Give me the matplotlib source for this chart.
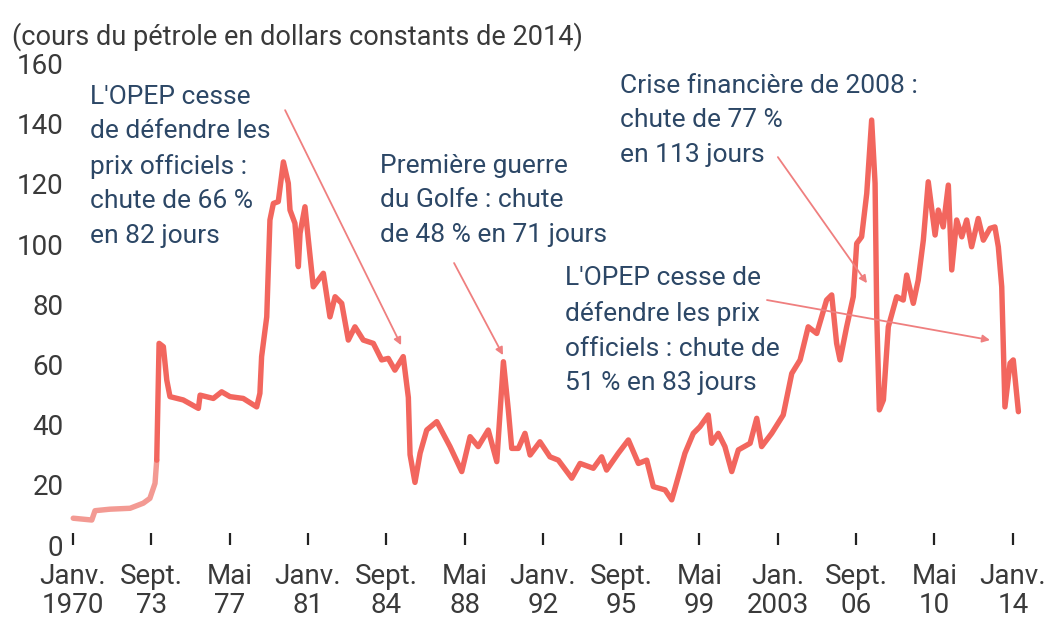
import matplotlib
matplotlib.use("Agg")
import matplotlib.pyplot as plt

plt.rcParams["font.family"] = ["Roboto", "DejaVu Sans"]

# cours du petrole (dollars constants de 2014)
annees = [1970.01, 1970.88, 1971.03, 1971.73, 1972.67, 1973.29, 1973.60, 1973.84, 1973.92,
          1974.03, 1974.23, 1974.39, 1974.54, 1975.16, 1975.87, 1975.95, 1976.57, 1976.96,
          1977.35, 1977.97, 1978.60, 1978.75, 1978.83, 1979.07, 1979.22, 1979.38, 1979.61,
          1979.85, 1980.08, 1980.16, 1980.39, 1980.55, 1980.63, 1980.86, 1981.02, 1981.25,
          1981.72, 1982.03, 1982.27, 1982.58, 1982.89, 1983.20, 1983.59, 1984.06, 1984.45,
          1984.76, 1985.07, 1985.46, 1985.70, 1985.78, 1986.01, 1986.25, 1986.56, 1987.03,
          1987.65, 1988.20, 1988.59, 1988.97, 1989.44, 1989.84, 1990.15, 1990.38, 1990.54,
          1990.85, 1991.16, 1991.40, 1991.86, 1992.33, 1992.72, 1993.35, 1993.74, 1994.36,
          1994.75, 1994.98, 1995.53, 1996.00, 1996.47, 1996.86, 1997.17, 1997.72, 1998.03,
          1998.34, 1998.65, 1999.04, 1999.35, 1999.74, 1999.90, 2000.21, 2000.52, 2000.84,
          2001.15, 2001.70, 2002.01, 2002.24, 2002.71, 2003.25, 2003.65, 2004.04, 2004.42,
          2004.82, 2005.28, 2005.52, 2005.75, 2005.91, 2006.22, 2006.53, 2006.69, 2006.92,
          2007.16, 2007.39, 2007.55, 2007.63, 2007.75, 2007.94, 2008.17, 2008.56, 2008.87,
          2009.03, 2009.34, 2009.57, 2009.81, 2010.04, 2010.36, 2010.51, 2010.74, 2010.98,
          2011.14, 2011.37, 2011.61, 2011.84, 2012.07, 2012.38, 2012.62, 2012.93, 2013.16,
          2013.32, 2013.48, 2013.63, 2013.87, 2014.02, 2014.26]
prix = [8.9, 8.3, 11.4, 11.9, 12.2, 13.9, 15.5, 20.5, 28.2,
        67.0, 65.9, 54.8, 49.3, 48.2, 45.4, 49.8, 48.7, 50.9,
        49.3, 48.7, 45.9, 50.4, 62.6, 75.8, 108.0, 113.5, 114.1,
        127.3, 120.2, 111.3, 106.9, 92.5, 103.6, 112.4, 101.3, 85.8,
        90.3, 75.8, 82.5, 80.3, 68.1, 72.5, 68.1, 67.0, 61.5,
        62.0, 58.1, 62.6, 49.0, 30.0, 20.8, 30.5, 38.2, 41.0,
        32.7, 24.4, 36.0, 32.7, 38.2, 27.7, 60.9, 44.9, 32.1,
        32.1, 37.1, 29.9, 34.3, 29.3, 28.2, 22.2, 27.1, 25.5,
        29.3, 24.9, 30.5, 34.9, 27.1, 28.2, 19.4, 18.3, 15.0,
        22.7, 30.5, 37.1, 39.3, 43.2, 33.8, 37.1, 32.7, 24.4,
        31.6, 33.8, 42.1, 32.7, 37.1, 43.2, 57.0, 61.5, 72.5,
        70.3, 81.4, 83.1, 67.0, 61.5, 72.5, 82.5, 100.2, 102.4,
        116.8, 141.2, 120.2, 75.8, 44.9, 48.2, 72.5, 82.5, 81.4,
        89.7, 80.3, 88.0, 101.3, 120.7, 103.0, 111.3, 105.7, 119.6,
        91.4, 108.0, 102.4, 108.0, 99.1, 108.5, 101.3, 105.2, 105.7,
        99.1, 85.8, 45.9, 60.4, 61.5, 44.3]

tick_annees = [1970.0, 1973.67, 1977.33, 1981.0, 1984.67, 1988.33, 1992.0,
               1995.67, 1999.33, 2003.0, 2006.67, 2010.33, 2014.0]
tick_labels = ["Janv.\n1970", "Sept.\n73", "Mai\n77", "Janv.\n81", "Sept.\n84", "Mai\n88",
               "Janv.\n92", "Sept.\n95", "Mai\n99", "Jan.\n2003", "Sept.\n06", "Mai\n10",
               "Janv.\n14"]
y_ticks = [0, 20, 40, 60, 80, 100, 120, 140, 160]

# (texte, position du texte, debut fleche, pointe fleche)
annotations = [
    ("L'OPEP cesse\nde défendre les\nprix officiels :\nchute de 66 %\nen 82 jours",
     (1970.80, 153.0), (1979.93, 144.5), (1985.36, 66.4)),
    ("Première guerre\ndu Golfe : chute\nde 48 % en 71 jours",
     (1984.37, 130.0), (1987.84, 93.7), (1990.13, 63.1)),
    ("Crise financière de 2008 :\nchute de 77 %\nen 113 jours",
     (1995.61, 156.6), (2003.0, 128.9), (2007.17, 87.0)),
    ("L'OPEP cesse de\ndéfendre les prix\nofficiels : chute de\n51 % en 83 jours",
     (1993.03, 92.6), (2002.49, 81.4), (2012.93, 68.1)),
]

GRIS = "#3a3a3a"
BLEU = "#2c4766"
ROUGE = "#f2665e"
ROSE = "#f39a93"

fig = plt.figure(figsize=(10.53, 6.25), dpi=100)
# 1970 -> x=73 px, 21.36 px par an ; 0 -> y=545 px, 3.01 px par dollar
ax = fig.add_axes([65 / 1053, 80 / 625, 970 / 1053, 481.5 / 625])
ax.set_xlim(1970 - 8 / 21.36, 1970 + 962 / 21.36)
ax.set_ylim(0, 160)

n_av = sum(1 for a in annees if a <= 1973.92)
ax.plot(annees[:n_av], prix[:n_av], color=ROSE, lw=3.9, solid_capstyle="round",
        solid_joinstyle="round")
ax.plot(annees[n_av - 1:], prix[n_av - 1:], color=ROUGE, lw=3.9, solid_capstyle="round",
        solid_joinstyle="round")

for s in ax.spines.values():
    s.set_visible(False)

ax.set_xticks(tick_annees)
ax.set_xticklabels(tick_labels, fontsize=20, color=GRIS, linespacing=1.08)
ax.tick_params(axis="x", direction="in", length=9, width=1.6, color="#222222", pad=13)
ax.set_yticks(y_ticks)
ax.set_yticklabels([str(v) for v in y_ticks], fontsize=20, color=GRIS)
ax.tick_params(axis="y", length=0, pad=1)

for texte, pos, debut, pointe in annotations:
    ax.text(pos[0], pos[1], texte, ha="left", va="top", fontsize=19, color=BLEU,
            linespacing=1.55)
    ax.annotate("", xy=pointe, xytext=debut,
                arrowprops=dict(arrowstyle="-|>", color="#ef7f7f", lw=1.3,
                                mutation_scale=11, shrinkA=0, shrinkB=0))

fig.text(12 / 1053, 1 - 37 / 625, "(cours du pétrole en dollars constants de 2014)",
         ha="left", va="center", fontsize=19.5, color=GRIS)

fig.savefig("out.png", dpi=100, facecolor="white")
